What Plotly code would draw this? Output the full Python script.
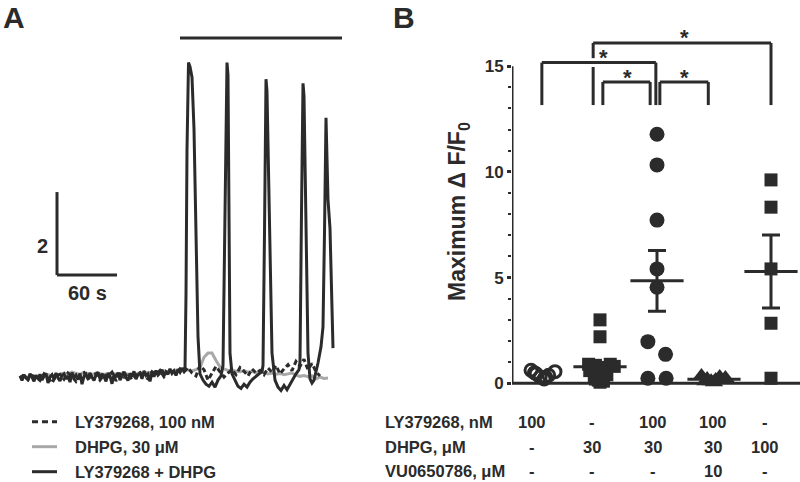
import numpy as np
import plotly.graph_objects as go

W, H = 800, 482
DARK = "#2b2b2b"
GRAY = "#a8a8a8"
FONT = "Arial, Liberation Sans, sans-serif"

# ---------------- Panel A data (time in s, ΔF/F0) ----------------
gray_t = list(range(0, 309, 4))
gray_y = [0.02, 0.05, 0.01, 0.04, 0.06, 0.03, 0.05, 0.08, 0.04, 0.07, 0.09,
          0.12, 0.10, 0.14, 0.11, 0.09, 0.13, 0.10, 0.08, 0.12, 0.11, 0.09,
          0.10, 0.13, 0.08, 0.11, 0.12, 0.09, 0.07, 0.10, 0.13, 0.11, 0.14,
          0.12, 0.15, 0.13, 0.17, 0.14, 0.16, 0.19, 0.15, 0.18, 0.20, 0.17,
          0.20, 0.25, 0.50, 0.60, 0.60, 0.42, 0.27, 0.22, 0.18, 0.20, 0.16,
          0.15, 0.18, 0.14, 0.16, 0.12, 0.15, 0.13, 0.10, 0.12, 0.09, 0.11,
          0.08, 0.10, 0.12, 0.07, 0.04, 0.06, 0.03, 0.05, -0.02, 0.02, -0.01, 0.00]

ly_t = list(range(0, 301, 4))
ly_y = [0.00, 0.08, -0.04, 0.06, 0.02, -0.06, 0.10, 0.01, -0.12, 0.05,
        0.09, -0.03, 0.12, 0.04, -0.08, 0.07, 0.13, -0.02, 0.06, 0.10,
        -0.05, 0.08, 0.03, 0.14, -0.07, 0.09, 0.02, 0.11, -0.04, 0.07,
        0.12, 0.05, -0.02, 0.15, 0.08, 0.18, 0.03, 0.14, 0.20, 0.10,
        0.22, 0.15, 0.25, 0.12, 0.05, 0.30, 0.20, -0.05, 0.10, 0.28,
        0.15, 0.02, 0.12, 0.20, 0.08, 0.25, 0.16, 0.05, 0.22, 0.12,
        0.18, 0.08, 0.24, 0.14, 0.30, 0.10, 0.22, 0.32, 0.18, 0.40,
        0.28, 0.45, 0.20, 0.35, 0.15, 0.05]

combo_t = [0, 2, 4, 6, 8, 10, 12, 14, 16, 18, 20, 22, 24, 26, 28, 30, 32, 34, 36, 38,
           40, 42, 44, 46, 48, 50, 52, 54, 56, 58, 60, 62, 64, 66, 68, 70, 72, 74, 76, 78,
           80, 82, 84, 86, 88, 90, 92, 94, 96, 98, 100, 102, 104, 106, 108, 110, 112, 114, 116, 118,
           120, 122, 124, 126, 128, 130, 132, 134, 136, 138, 140, 142, 144, 146, 148, 150, 152, 154,
           156, 158, 160, 162, 164,
           165, 166, 167, 168.5, 170, 172, 174, 176, 178, 180,
           183, 186, 189, 192, 195, 198, 201,
           203, 205, 207, 208, 209, 210, 212,
           215, 218, 221, 224, 227, 230, 233, 236, 239, 242,
           243, 244.5, 246, 247, 249, 251, 252,
           255, 258, 261, 264, 267, 270, 273, 276, 279,
           280, 281.5, 283, 284, 286, 288,
           290, 292, 294, 296, 298, 301, 303, 304.5, 306, 308, 310, 313]
combo_y = [0.05, -0.06, 0.08, 0.00, -0.04, 0.10, 0.02, -0.08, 0.06, -0.02,
           0.09, -0.05, 0.04, 0.11, -0.12, 0.03, 0.08, -0.03, 0.12, 0.00,
           -0.07, 0.06, 0.10, -0.02, 0.05, -0.10, 0.13, 0.01, 0.07, -0.04,
           0.11, -0.15, 0.04, 0.09, -0.03, 0.12, 0.02, -0.06, 0.08, 0.14,
           -0.02, 0.10, 0.03, -0.08, 0.12, 0.05, -0.14, 0.09, 0.02, 0.13,
           -0.05, 0.07, 0.15, 0.01, -0.06, 0.11, 0.04, 0.16, -0.03, 0.08,
           0.12, -0.02, 0.17, 0.06, 0.10, -0.08, 0.14, 0.03, 0.18, 0.07,
           0.12, 0.20, 0.05, 0.15, 0.09, 0.22, 0.11, 0.17, 0.06, 0.21,
           0.14, 0.24, 0.16,
           0.2, 2.0, 5.5, 7.6, 7.5, 7.25, 6.0, 3.5, 1.0, 0.1,
           -0.05, -0.15, -0.2, -0.1, -0.22, -0.05, 0.05,
           0.3, 4.0, 7.6, 7.3, 4.5, 0.6, 0.1,
           -0.05, -0.2, -0.25, -0.15, -0.22, -0.1, -0.02, 0.05, 0.1, 0.15,
           0.3, 3.5, 7.2, 6.9, 4.0, 1.5, 0.6,
           -0.05, -0.22, -0.3, -0.18, -0.28, -0.15, -0.02, 0.1, 0.2,
           0.4, 4.0, 7.1, 6.8, 3.0, 0.6,
           -0.02, -0.12, -0.05, 0.15, 0.36, 0.75, 1.23, 3.5, 6.27, 4.3, 3.6, 0.72]

legend_labels = ["LY379268, 100 nM", "DHPG, 30 μM", "LY379268 + DHPG"]
drug_bar = [160, 322]      # s, application period
scale_dt, scale_dy = 60, 2

# ---------------- Panel B data ----------------
g1_vals = [0.62, 0.45, 0.30, 0.20, 0.38, 0.55, 0.28, 0.50]
g1_off = [-0.21, -0.12, -0.05, 0.02, 0.10, 0.21, 0.05, -0.15]
g2_vals = [3.0, 2.2, 0.9, 0.85, 0.9, 0.75, 0.6, 0.8, 0.5, 0.3, 0.4, 0.15, 0.1, 0.05, 0.2]
g2_off = [0, 0, -0.2, -0.08, 0.18, 0.08, -0.18, 0.25, 0.0, -0.1, 0.12, -0.03, 0.06, 0.0, -0.08]
g3_vals = [11.78, 10.33, 7.72, 5.41, 4.54, 1.97, 1.37, 0.24, 0.24]
g3_off = [0, 0, 0, 0, 0, -0.16, 0.15, -0.16, 0.16]
g4_vals = [0.35, 0.2, 0.1, 0.15, 0.3, 0.05, 0.25, 0.1]
g4_off = [-0.22, -0.12, -0.05, 0.03, 0.1, 0.0, 0.2, -0.15]
g5_vals = [9.62, 8.33, 5.41, 2.84, 0.24]
g5_off = [0, 0, 0, 0, 0]

row_names = ["LY379268, nM", "DHPG, μM", "VU0650786, μM"]
row_vals = [["100", "-", "100", "100", "-"],
            ["-", "30", "30", "30", "100"],
            ["-", "-", "-", "10", "-"]]
yticks_B = [0, 5, 10, 15]
# comparisons: (x_left, x_right, bracket level, star x)
comparisons = [(1.88, 5.0, 16.1, 3.49), (0.98, 2.98, 15.17, 2.07),
               (2.05, 2.88, 14.25, 2.49), (3.05, 3.9, 14.25, 3.49)]
leg_bottom = 13.16

# ---------------- helpers ----------------
def px(x):
    return x / W

def py(y):
    return 1 - y / H

fig = go.Figure()

# Panel A traces
fig.add_trace(go.Scatter(x=gray_t, y=gray_y, mode="lines", line=dict(color=GRAY, width=3),
                         xaxis="x", yaxis="y", showlegend=False))
fig.add_trace(go.Scatter(x=ly_t, y=ly_y, mode="lines", line=dict(color=DARK, width=3, dash="5px,3px"),
                         xaxis="x", yaxis="y", showlegend=False))
fig.add_trace(go.Scatter(x=combo_t, y=combo_y, mode="lines", line=dict(color=DARK, width=3),
                         xaxis="x", yaxis="y", showlegend=False))

# Panel B points
def pts(i, vals, offs, symbol, size, open_=False):
    xs = [i + o for o in offs]
    if open_:
        m = dict(symbol=symbol, size=size, color=DARK, line=dict(width=3, color=DARK))
    else:
        m = dict(symbol=symbol, size=size, color=DARK, line=dict(width=0))
    fig.add_trace(go.Scatter(x=xs, y=vals, mode="markers", marker=m, cliponaxis=False,
                             xaxis="x2", yaxis="y2", showlegend=False))

def mean_sem(i, vals):
    v = np.array(vals)
    m = v.mean()
    s = v.std(ddof=1) / np.sqrt(len(v))
    fig.add_trace(go.Scatter(x=[i], y=[m], mode="markers",
                             marker=dict(symbol="line-ew", size=38, line=dict(width=3, color=DARK)),
                             error_y=dict(type="data", array=[s], visible=True, thickness=3, width=9, color=DARK),
                             cliponaxis=False, xaxis="x2", yaxis="y2", showlegend=False))

mean_sem(2, g2_vals)
mean_sem(3, g3_vals)
mean_sem(4, g4_vals)
mean_sem(5, g5_vals)
pts(1, g1_vals, g1_off, "circle-open", 12, open_=True)
pts(2, g2_vals, g2_off, "square", 13)
pts(3, g3_vals, g3_off, "circle", 15)
pts(4, g4_vals, g4_off, "triangle-up", 16)
pts(5, g5_vals, g5_off, "square", 13)

shapes = []
ann = []
lw = 3

def text(t, x, y, size, xanchor="center", yanchor="middle", **kw):
    d = dict(text=t, x=x, y=y, xref=kw.pop("xref", "paper"), yref=kw.pop("yref", "paper"),
             showarrow=False, xanchor=xanchor, yanchor=yanchor,
             font=dict(family=FONT, size=size, color=DARK, weight="bold"))
    d.update(kw)
    ann.append(d)

# Panel A decorations
shapes.append(dict(type="line", xref="x", yref="y", x0=drug_bar[0], x1=drug_bar[1], y0=8.19, y1=8.19,
                   line=dict(color=DARK, width=3)))
sx0, sy0 = 37, 2.48
shapes.append(dict(type="line", xref="x", yref="y", x0=sx0, x1=sx0, y0=sy0, y1=sy0 + scale_dy,
                   line=dict(color=DARK, width=3)))
shapes.append(dict(type="line", xref="x", yref="y", x0=sx0, x1=sx0 + scale_dt, y0=sy0, y1=sy0,
                   line=dict(color=DARK, width=3)))
text(str(scale_dy), px(42), py(246), 20)
text(f"{scale_dt} s", px(87), py(293), 20)

# legend A
leg_styles = [dict(color=DARK, width=3, dash="6px,4px"), dict(color=GRAY, width=3), dict(color=DARK, width=3)]
leg_y = [421.7, 446.7, 471.7]
for lab, st, yy in zip(legend_labels, leg_styles, leg_y):
    shapes.append(dict(type="line", xref="paper", yref="paper", x0=px(32), x1=px(57), y0=py(yy), y1=py(yy), line=st))
    text(lab, px(73), py(yy), 16.5, xanchor="left")

# panel letters
text("A", px(14), py(18), 30)
text("B", px(404), py(18), 30)

# Panel B axes lines
xr0, xr1 = 0.4561, 5.5088
shapes.append(dict(type="line", xref="x2", yref="y2", x0=xr0, x1=xr0, y0=0, y1=15, line=dict(color=DARK, width=lw)))
shapes.append(dict(type="line", xref="x2", yref="y2", x0=xr0, x1=xr1, y0=0, y1=0, line=dict(color=DARK, width=lw)))

# brackets
for k, (a, b, lev, sx) in enumerate(comparisons):
    shapes.append(dict(type="line", xref="x2", yref="y2", x0=a, x1=b, y0=lev, y1=lev, line=dict(color=DARK, width=lw)))
    if k == 0:
        shapes.append(dict(type="line", xref="x2", yref="y2", x0=a, x1=a, y0=lev, y1=15.38, line=dict(color=DARK, width=lw)))
        shapes.append(dict(type="line", xref="x2", yref="y2", x0=a, x1=a, y0=14.96, y1=leg_bottom, line=dict(color=DARK, width=lw)))
    else:
        shapes.append(dict(type="line", xref="x2", yref="y2", x0=a, x1=a, y0=lev, y1=leg_bottom, line=dict(color=DARK, width=lw)))
    shapes.append(dict(type="line", xref="x2", yref="y2", x0=b, x1=b, y0=lev, y1=leg_bottom, line=dict(color=DARK, width=lw)))
    text("*", sx, lev, 22, xref="x2", yref="y2", yshift=5)

# axis title B
text("Maximum Δ F/F<sub>0</sub>", px(458), py(212), 23, textangle=-90)

# condition rows
col_x = [532, 592, 653, 713, 765]
row_y = [421.7, 446.5, 470.5]
for name, vals, yy in zip(row_names, row_vals, row_y):
    text(name, px(383), py(yy), 16.5, xanchor="left")
    for cx, v in zip(col_x, vals):
        text(v, px(cx), py(yy), 16.5)

fig.update_layout(
    width=W, height=H, margin=dict(l=0, r=0, t=0, b=0),
    paper_bgcolor="white", plot_bgcolor="rgba(0,0,0,0)",
    showlegend=False,
    xaxis=dict(domain=[0, 0.5], range=[-20, 380], visible=False),
    yaxis=dict(domain=[0, 1], range=[-2.506, 9.108], visible=False),
    xaxis2=dict(domain=[0.64, 1.0], range=[xr0, xr1], visible=False, anchor="y2"),
    yaxis2=dict(domain=[0, 1], range=[-4.669, 18.13], anchor="x2",
                showline=False, showgrid=False, zeroline=False,
                tickmode="array", tickvals=yticks_B, ticktext=[str(v) for v in yticks_B],
                ticks="outside", ticklen=4, tickwidth=3, tickcolor=DARK,
                tickfont=dict(family=FONT, size=17, color=DARK, weight="bold"),
                minor=dict(tickmode="array", tickvals=[1, 2, 3, 4, 6, 7, 8, 9, 11, 12, 13, 14],
                           ticks="outside", ticklen=3, tickwidth=2, tickcolor=DARK)),
    shapes=shapes, annotations=ann,
)
fig.write_html("out.html", config={"displayModeBar": False},
               post_script="document.body.style.margin='0';document.body.style.overflow='hidden';")
